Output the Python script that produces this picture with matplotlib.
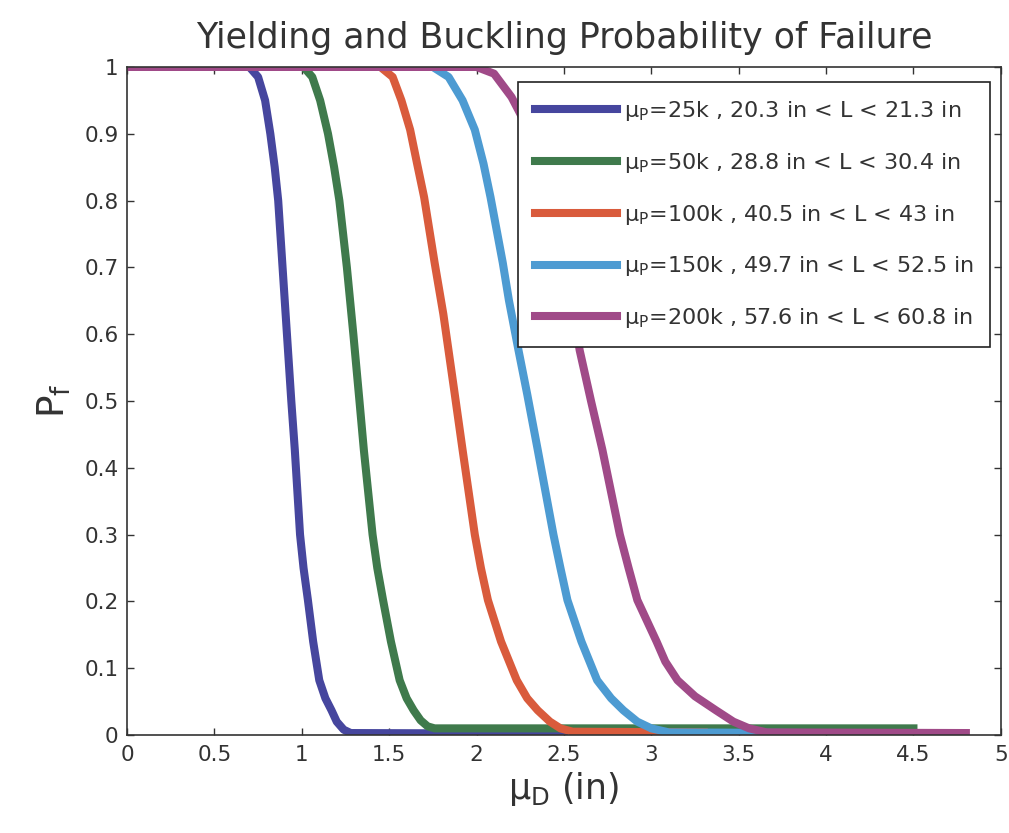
import numpy as np
import matplotlib
matplotlib.use('Agg')
import matplotlib.pyplot as plt

plt.rcParams['font.family'] = ['DejaVu Sans']
plt.rcParams['mathtext.fontset'] = 'dejavusans'

# curves: mean diameter (in) vs probability of failure
x_25k = [0, 0.70, 0.75, 0.79, 0.82, 0.845, 0.865, 0.89, 0.915, 0.94, 0.96, 0.99, 1.01, 1.035,
         1.065, 1.10, 1.135, 1.17, 1.20, 1.24, 1.28, 2.5]
y_25k = [1, 1, 0.985, 0.95, 0.9, 0.85, 0.8, 0.7, 0.6, 0.5, 0.427, 0.3, 0.25, 0.202,
         0.14, 0.082, 0.055, 0.037, 0.02, 0.008, 0.003, 0.002]

x_50k = [0, 1.01, 1.06, 1.105, 1.15, 1.185, 1.215, 1.258, 1.295, 1.33, 1.355, 1.405, 1.432, 1.465,
         1.51, 1.56, 1.60, 1.64, 1.68, 1.72, 1.76, 4.5]
y_50k = [1, 1, 0.985, 0.95, 0.9, 0.85, 0.8, 0.7, 0.6, 0.5, 0.427, 0.3, 0.25, 0.202,
         0.14, 0.082, 0.055, 0.037, 0.022, 0.013, 0.01, 0.01]

x_100k = [0, 1.45, 1.52, 1.57, 1.62, 1.66, 1.70, 1.76, 1.81, 1.87, 1.92, 1.99, 2.025, 2.065,
          2.14, 2.23, 2.29, 2.35, 2.42, 2.48, 2.55, 3.3]
y_100k = [1, 1, 0.985, 0.95, 0.906, 0.855, 0.805, 0.707, 0.63, 0.52, 0.427, 0.3, 0.25, 0.202,
          0.14, 0.082, 0.055, 0.037, 0.02, 0.01, 0.005, 0.004]

x_150k = [0, 1.75, 1.84, 1.92, 1.99, 2.04, 2.08, 2.15, 2.185, 2.24, 2.29, 2.35, 2.44, 2.48, 2.52,
          2.60, 2.69, 2.77, 2.84, 2.92, 3.0, 3.1, 3.9]
y_150k = [1, 1, 0.985, 0.95, 0.906, 0.855, 0.805, 0.707, 0.651, 0.576, 0.51, 0.427, 0.3, 0.25, 0.202,
          0.14, 0.082, 0.055, 0.037, 0.02, 0.01, 0.004, 0.003]

x_200k = [0, 2.0, 2.10, 2.20, 2.27, 2.33, 2.40, 2.45, 2.49, 2.53, 2.59, 2.655, 2.72, 2.82, 2.87,
          2.92, 3.03, 3.08, 3.15, 3.25, 3.37, 3.47, 3.56, 3.66, 4.8]
y_200k = [1, 1, 0.99, 0.955, 0.92, 0.88, 0.83, 0.78, 0.73, 0.68, 0.576, 0.5, 0.427, 0.3, 0.25,
          0.202, 0.14, 0.11, 0.082, 0.058, 0.037, 0.02, 0.01, 0.004, 0.003]

labels = [
    'μ$_\\mathregular{P}$=25k , 20.3 in < L < 21.3 in',
    'μ$_\\mathregular{P}$=50k , 28.8 in < L < 30.4 in',
    'μ$_\\mathregular{P}$=100k , 40.5 in < L < 43 in',
    'μ$_\\mathregular{P}$=150k , 49.7 in < L < 52.5 in',
    'μ$_\\mathregular{P}$=200k , 57.6 in < L < 60.8 in',
]
colors = ['#46469e', '#3f7a4c', '#d95b3c', '#4d9bd2', '#a04a88']

xs = [x_25k, x_50k, x_100k, x_150k, x_200k]
ys = [y_25k, y_50k, y_100k, y_150k, y_200k]

fig = plt.figure(figsize=(10.09, 8.33), dpi=100)
ax = fig.add_axes([0.1259, 0.1176, 0.866, 0.802])

for x, y, c, lab in zip(xs, ys, colors, labels):
    ax.plot(x, y, color=c, lw=5.8, label=lab, solid_joinstyle='round')

ax.set_xlim(0, 5)
ax.set_ylim(0, 1)
ax.set_xticks(np.arange(0, 5.01, 0.5))
ax.set_xticklabels(['0', '0.5', '1', '1.5', '2', '2.5', '3', '3.5', '4', '4.5', '5'])
ax.set_yticks(np.arange(0, 1.01, 0.1))
ax.set_yticklabels(['0', '0.1', '0.2', '0.3', '0.4', '0.5', '0.6', '0.7', '0.8', '0.9', '1'])
ax.tick_params(direction='in', top=True, right=True, length=5, width=1,
               labelsize=15.5, colors='#333333')
ax.tick_params(axis='x', pad=7)
ax.tick_params(axis='y', pad=6)
for s in ax.spines.values():
    s.set_color('#333333')
    s.set_linewidth(1.2)

ax.set_title('Yielding and Buckling Probability of Failure', fontsize=25,
             color='#333333', pad=14)
ax.set_xlabel('μ$_\\mathregular{D}$ (in)', fontsize=25, color='#333333', labelpad=4)
ax.set_ylabel('P$_\\mathregular{f}$', fontsize=27, color='#333333', labelpad=8)

leg = ax.legend(loc='upper right', bbox_to_anchor=(0.988, 0.977), borderaxespad=0,
                fontsize=16, handlelength=3.7, handletextpad=0.3, labelspacing=1.25,
                borderpad=0.75, fancybox=False, framealpha=1, edgecolor='#222222')
leg.get_frame().set_linewidth(1.2)
for t in leg.get_texts():
    t.set_color('#333333')

fig.savefig('out.png', dpi=100)
